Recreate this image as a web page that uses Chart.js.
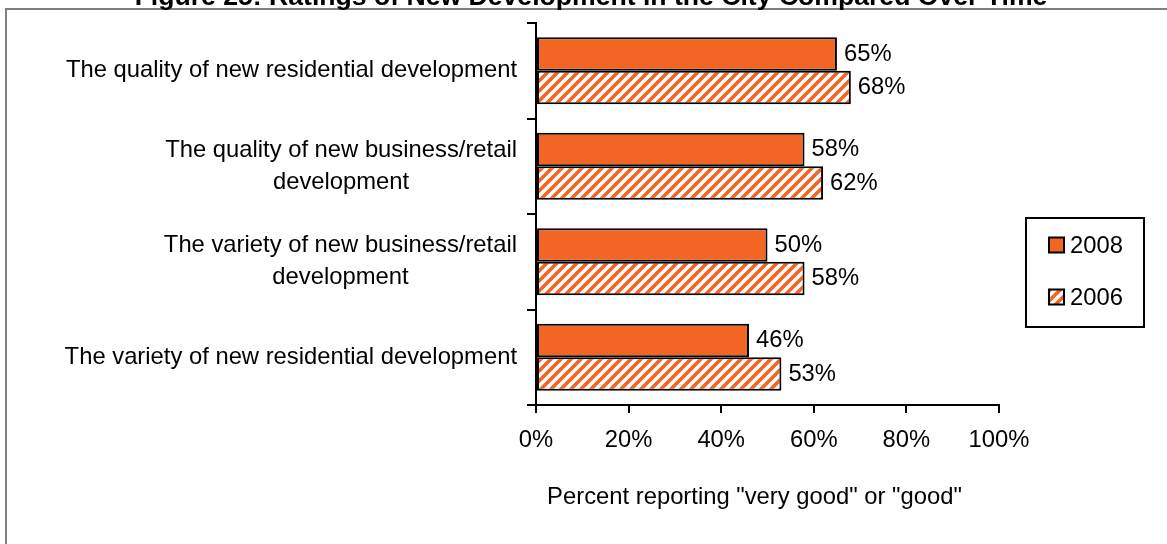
<!DOCTYPE html>
<html>
<head>
<meta charset="utf-8">
<title>Ratings of New Development</title>
<script src="https://cdn.jsdelivr.net/npm/chart.js@4.4.0/dist/chart.umd.min.js"></script>
<style>
  html, body { margin: 0; padding: 0; background: #fff; }
  #wrap { width: 1167px; height: 544px; }
</style>
</head>
<body>
<div id="wrap"><canvas id="ratings" width="1167" height="544"></canvas></div>
<script>
// categories (one array per label line) and series values in percent
const CATEGORIES = [
  ["The quality of new residential development"],
  ["The quality of new business/retail", "development"],
  ["The variety of new business/retail", "development"],
  ["The variety of new residential development"],
];
const SERIES_LABELS = ["2008", "2006"];
const VALUES_2008 = [65, 58, 50, 46];
const VALUES_2006 = [68, 62, 58, 53];
const X_TICKS = [0, 20, 40, 60, 80, 100];

const TITLE = "Figure 25: Ratings of New Development in the City Compared Over Time";
const X_TITLE = 'Percent reporting "very good" or "good"';

const ORANGE = "#F26522";
const FONT = "'Liberation Sans', Arial, sans-serif";
const FONT_SIZE = 23.8;

Chart.defaults.font.family = FONT;
Chart.defaults.color = "#000";

// white tile with "/" stripes for the 2006 bars
function makeHatch() {
  const c = document.createElement("canvas");
  c.width = 10;
  c.height = 10;
  const g = c.getContext("2d");
  g.fillStyle = "#fff";
  g.fillRect(0, 0, 10, 10);
  g.strokeStyle = ORANGE;
  g.lineWidth = 3.6;
  g.beginPath();
  g.moveTo(-5, 5);  g.lineTo(5, -5);
  g.moveTo(0, 10);  g.lineTo(10, 0);
  g.moveTo(5, 15);  g.lineTo(15, 5);
  g.stroke();
  return g.createPattern(c, "repeat");
}

const ctx = document.getElementById("ratings").getContext("2d");
const hatch = makeHatch();

// frame, title, category labels, value labels, axis title, legend
const decorPlugin = {
  id: "decor",
  beforeDraw(chart) {
    const c = chart.ctx;
    c.save();
    c.strokeStyle = "#808080";
    c.lineWidth = 2;
    c.beginPath();
    c.moveTo(6, chart.height);
    c.lineTo(6, 9);
    c.lineTo(chart.width, 9);
    c.stroke();

    c.fillStyle = "#000";
    c.font = `bold 26.6px ${FONT}`;
    c.textAlign = "center";
    c.textBaseline = "alphabetic";
    c.fillText(TITLE, 591, 5);
    c.restore();
  },
  afterDraw(chart) {
    const c = chart.ctx;
    const area = chart.chartArea;
    const yScale = chart.scales.y;
    c.save();
    c.fillStyle = "#000";
    c.font = `${FONT_SIZE}px ${FONT}`;
    c.textBaseline = "middle";

    // category labels: centred block, right edge 19px left of the axis
    const lineH = 32;
    const rightEdge = area.left - 19;
    CATEGORIES.forEach((lines, i) => {
      const cy = yScale.getPixelForValue(i);
      const maxW = Math.max(...lines.map((l) => c.measureText(l).width));
      const cx = rightEdge - maxW / 2;
      c.textAlign = "center";
      lines.forEach((l, k) => {
        c.fillText(l, cx, cy + (k - (lines.length - 1) / 2) * lineH);
      });
    });

    // value labels at bar ends
    c.textAlign = "left";
    chart.data.datasets.forEach((ds, di) => {
      chart.getDatasetMeta(di).data.forEach((bar, i) => {
        c.fillText(ds.data[i] + "%", bar.x + 7, bar.y);
      });
    });

    // axis title
    c.textAlign = "center";
    c.fillText(X_TITLE, (area.left + area.right) / 2 - 13, 497);

    // legend box
    c.strokeStyle = "#000";
    c.lineWidth = 2;
    c.strokeRect(1026, 218, 118, 109);
    const rows = [245, 297];
    chart.data.datasets.forEach((ds, di) => {
      const y = rows[di];
      c.fillStyle = ds.backgroundColor;
      c.fillRect(1049, y - 7.5, 15, 15);
      c.lineWidth = 2;
      c.strokeRect(1049, y - 7.5, 15, 15);
      c.fillStyle = "#000";
      c.textAlign = "left";
      c.fillText(ds.label, 1070, y + 1);
    });
    c.restore();
  },
};

new Chart(ctx, {
  type: "bar",
  data: {
    labels: CATEGORIES.map((l) => l.join(" ")),
    datasets: [
      {
        label: SERIES_LABELS[0],
        data: VALUES_2008,
        backgroundColor: ORANGE,
        borderColor: "#000",
        borderWidth: 2,
        borderSkipped: false,
      },
      {
        label: SERIES_LABELS[1],
        data: VALUES_2006,
        backgroundColor: hatch,
        borderColor: "#000",
        borderWidth: 2,
        borderSkipped: false,
      },
    ],
  },
  options: {
    indexAxis: "y",
    responsive: false,
    animation: false,
    devicePixelRatio: 1,
    layout: { padding: { top: 23, right: 168, left: 0, bottom: 0 } },
    datasets: { bar: { categoryPercentage: 0.7, barPercentage: 1 } },
    plugins: {
      legend: { display: false },
      tooltip: { enabled: false },
      title: { display: false },
    },
    scales: {
      x: {
        min: 0,
        max: 100,
        afterBuildTicks: (scale) => { scale.ticks = X_TICKS.map((v) => ({ value: v })); },
        afterFit: (scale) => { scale.height = 139; },
        grid: { drawOnChartArea: false, drawTicks: true, tickLength: 8, color: "#000", lineWidth: 2 },
        border: { display: true, color: "#000", width: 2 },
        ticks: {
          padding: 13,
          color: "#000",
          font: { size: FONT_SIZE },
          maxRotation: 0,
          callback: (v) => v + "%",
        },
      },
      y: {
        offset: true,
        afterFit: (scale) => { scale.width = 536; },
        grid: { offset: true, drawOnChartArea: false, drawTicks: true, tickLength: 9, color: "#000", lineWidth: 2 },
        border: { display: true, color: "#000", width: 2 },
        ticks: { display: false },
      },
    },
  },
  plugins: [decorPlugin],
});
</script>
</body>
</html>
